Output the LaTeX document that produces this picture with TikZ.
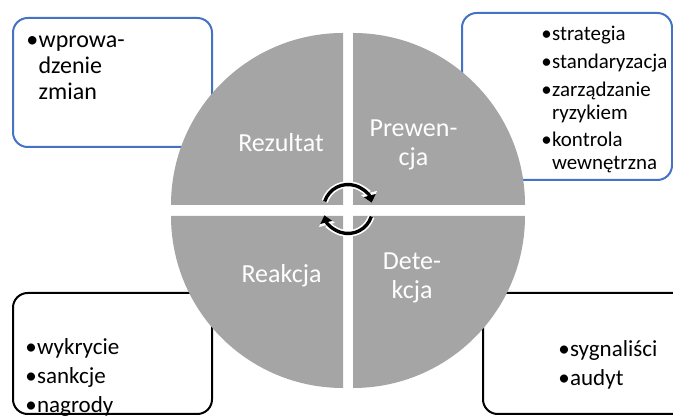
\documentclass[tikz,border=0pt]{standalone}
\usepackage{fontspec}
\setmainfont{Carlito}
\usepackage{tikz}
\usetikzlibrary{arrows.meta}
\usetikzlibrary{positioning}

\definecolor{segment}{HTML}{A5A5A5}
\definecolor{frameblue}{HTML}{4472C4}

\tikzset{>=latex}
\tikzstyle{quarter} = [fill=segment, draw=none]
\tikzstyle{bluebox} = [draw=frameblue, line width=1.5pt, rounded corners=11pt]
\tikzstyle{blackbox} = [draw=black, line width=1.5pt, rounded corners=11pt]
\tikzstyle{seglabel} = [text=white, inner sep=0pt, anchor=base, font=\fontsize{19.5}{21.75}\selectfont]
\tikzstyle{boxtext} = [text=black, inner sep=0pt, anchor=base west]
\tikzstyle{turn} = [line width=2.5pt, -{Triangle[width=9pt, length=5.5pt]},
  preaction={draw=white, line width=5pt, -{Triangle[width=12pt, length=7.5pt]}}]

\newcommand{\pkt}{\textbullet\hspace{0.3pt}}
\newcommand{\wc}{\phantom{\textbullet}\hspace{0.3pt}}

\begin{document}
\begin{tikzpicture}[x=0.75pt, y=0.75pt]
\useasboundingbox (0, 0) rectangle (673, 416);
\clip (0, 0) rectangle (673, 416);

% frames behind the wheel
\draw [bluebox] (13, 269) rectangle (212, 398);
\draw [bluebox] (462, 236) rectangle (672, 403);
\draw [blackbox] (13, 2) rectangle (212, 123);
\draw [blackbox] (483, 2) rectangle (690, 123);

% the four quarters
\fill [quarter] (343, 211) -- (171, 211) arc [start angle=180, end angle=90, radius=172] -- cycle;
\fill [quarter] (353, 211) -- (353, 383) arc [start angle=90, end angle=0, radius=172] -- cycle;
\fill [quarter] (343, 200) -- (171, 200) arc [start angle=180, end angle=270, radius=172] -- cycle;
\fill [quarter] (353, 200) -- (525, 200) arc [start angle=0, end angle=-90, radius=172] -- cycle;

% cycle arrows
\coordinate (hub) at (348, 207);
\draw [turn] ([shift={(162:24.5)}]hub) arc [start angle=162, end angle=15, radius=24.5];
\draw [turn] ([shift={(-18:24.5)}]hub) arc [start angle=-18, end angle=-165, radius=24.5];

\node [seglabel] (Rez) at (281, 264) {Rezultat};
\node [seglabel] (Prew) at (413.5, 279) {\begin{tabular}[t]{@{}c@{}}Prewen-\\cja\end{tabular}};
\node [seglabel] (Reak) at (281.5, 133) {Reakcja};
\node [seglabel] (Det) at (412, 146) {\begin{tabular}[t]{@{}c@{}}Dete-\\kcja\end{tabular}};

\node [boxtext, font=\fontsize{18}{19.5}\selectfont] (Zmiany) at (26, 368)
  {\begin{tabular}[t]{@{}l@{}}\pkt wprowa-\\\wc dzenie\\\wc zmian\end{tabular}};
\node [boxtext, font=\fontsize{15.7}{17.25}\selectfont] (Prewencja) at (541, 375)
  {\begin{tabular}[t]{@{}l@{}}\pkt strategia\\[3.4pt]\pkt standaryzacja\\[3.4pt]\pkt zarządzanie\\\wc ryzykiem\\[3.4pt]\pkt kontrola\\\wc wewnętrzna\end{tabular}};
\node [boxtext, font=\fontsize{17.25}{21.4}\selectfont] (Reakcja) at (25, 61)
  {\begin{tabular}[t]{@{}l@{}}\pkt wykrycie\\\pkt sankcje\\\pkt nagrody\end{tabular}};
\node [boxtext, font=\fontsize{17.25}{21.4}\selectfont] (Detekcja) at (558, 59)
  {\begin{tabular}[t]{@{}l@{}}\pkt sygnaliści\\\pkt audyt\end{tabular}};
\end{tikzpicture}
\end{document}
